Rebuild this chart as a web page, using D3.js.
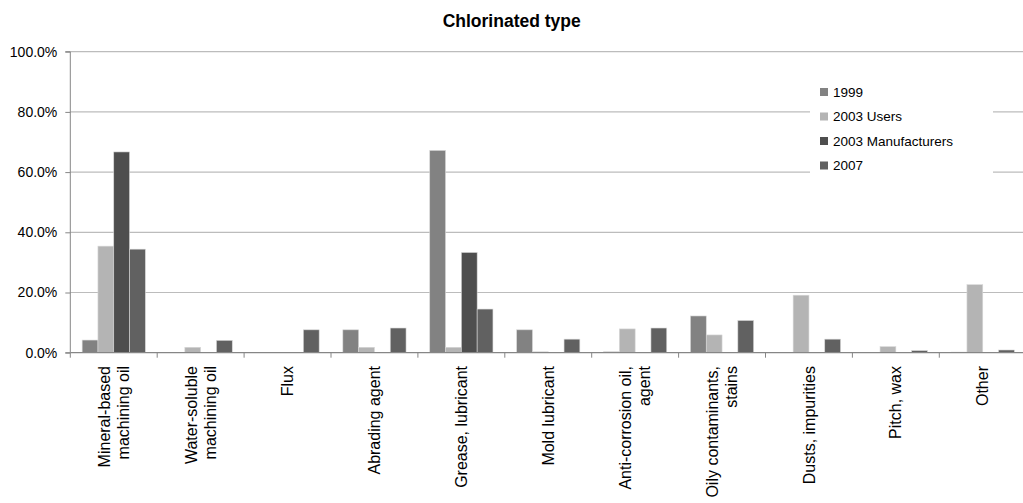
<!DOCTYPE html>
<html>
<head>
<meta charset="utf-8">
<script src="https://cdn.jsdelivr.net/npm/d3@7"></script>
<style>
  html, body { margin: 0; padding: 0; background: #fff; }
  svg { display: block; font-family: "Liberation Sans", Arial, sans-serif; }
</style>
</head>
<body>
<svg id="chart" width="1023" height="503"></svg>
<script>
const categories = [
  ["Mineral-based", "machining oil"],
  ["Water-soluble", "machining oil"],
  ["Flux"],
  ["Abrading agent"],
  ["Grease, lubricant"],
  ["Mold lubricant"],
  ["Anti-corrosion oil,", "agent"],
  ["Oily contaminants,", "stains"],
  ["Dusts, impurities"],
  ["Pitch, wax"],
  ["Other"]
];
const seriesNames = ["1999", "2003 Users", "2003 Manufacturers", "2007"];
const values1999 = [4.2, 0, 0, 7.6, 67.2, 7.6, 0.3, 12.2, 0, 0, 0.2];
const values2003Users = [35.4, 1.8, 0, 1.8, 1.8, 0.3, 7.9, 5.9, 19.1, 2.0, 22.6];
const values2003Manufacturers = [66.7, 0, 0, 0, 33.3, 0, 0, 0, 0, 0, 0];
const values2007 = [34.4, 4.1, 7.6, 8.2, 14.5, 4.5, 8.2, 10.7, 4.5, 0.7, 0.9];
const yTicks = [0, 20, 40, 60, 80, 100];
const title = "Chlorinated type";
const colors = ["#828282", "#b4b4b4", "#4e4e4e", "#616161"];

const seriesValues = [values1999, values2003Users, values2003Manufacturers, values2007];
const catKeys = categories.map(c => c.join(" "));

const svg = d3.select("#chart");
const mLeft = 70.3, mTop = 51.7, mBottom = 352.7, catStep = 86.9;
const mRight = mLeft + catStep * categories.length;

const x = d3.scaleBand().domain(catKeys).range([mLeft, mRight]).paddingInner(0).paddingOuter(0);
const xs = d3.scaleBand().domain(seriesNames).range([0, x.bandwidth()]).paddingInner(0).paddingOuter(0.75);
const y = d3.scaleLinear().domain([0, 100]).range([mBottom, mTop]);

// gridlines
svg.append("g").selectAll("line").data(yTicks.filter(t => t > 0)).join("line")
  .attr("x1", mLeft).attr("x2", mRight)
  .attr("y1", d => y(d)).attr("y2", d => y(d))
  .attr("stroke", "#bcbcbc").attr("stroke-width", 1.2);

// bars
const table = [];
catKeys.forEach((c, i) => seriesNames.forEach((s, j) => table.push({c, s, j, v: seriesValues[j][i]})));
svg.append("g").selectAll("rect").data(table.filter(d => d.v > 0)).join("rect")
  .attr("x", d => x(d.c) + xs(d.s))
  .attr("width", xs.bandwidth())
  .attr("y", d => y(d.v))
  .attr("height", d => y(0) - y(d.v))
  .attr("fill", d => colors[d.j])
  .attr("stroke", "#d8d8d8").attr("stroke-width", 0.6);

// y axis
const yAxis = d3.axisLeft(y).tickValues(yTicks).tickSize(5).tickPadding(8)
  .tickFormat(d => d.toFixed(1) + "%");
const yg = svg.append("g").attr("transform", `translate(${mLeft},0)`).call(yAxis);
yg.select(".domain").attr("stroke", "#868686").attr("d", `M-5,${mTop}H0V${mBottom}H-5`);
yg.selectAll(".tick line").attr("stroke", "#868686");
yg.selectAll(".tick text").attr("font-size", 14).attr("fill", "#000")
  .attr("font-family", "Liberation Sans, Arial, sans-serif");

// x axis
const xg = svg.append("g").attr("transform", `translate(0,${mBottom})`);
xg.append("line").attr("x1", mLeft).attr("x2", mRight).attr("stroke", "#868686").attr("stroke-width", 1.2);
xg.selectAll(".xt").data(d3.range(categories.length + 1)).join("line")
  .attr("class", "xt")
  .attr("x1", i => mLeft + i * x.step()).attr("x2", i => mLeft + i * x.step())
  .attr("y1", 0).attr("y2", 5).attr("stroke", "#868686");

const labels = svg.append("g");
categories.forEach((lines, i) => {
  const cx = x(catKeys[i]) + x.bandwidth() / 2;
  const t = labels.append("text")
    .attr("transform", `translate(${cx},366) rotate(-90)`)
    .attr("text-anchor", "end")
    .attr("font-size", 16)
    .attr("fill", "#000");
  const lh = 19;
  lines.forEach((ln, k) => {
    t.append("tspan").attr("x", 0)
      .attr("y", (k - (lines.length - 1) / 2) * lh)
      .attr("dy", "0.35em")
      .text(ln);
  });
});

// title
svg.append("text").attr("x", 511.7).attr("y", 27).attr("text-anchor", "middle")
  .attr("font-size", 17.5).attr("font-weight", "bold").attr("fill", "#000").text(title);

// legend
const lg = svg.append("g");
lg.append("rect").attr("x", 810).attr("y", 78).attr("width", 183).attr("height", 102).attr("fill", "#fff");
seriesNames.forEach((s, j) => {
  const cy = 92 + j * 24.5;
  lg.append("rect").attr("x", 820).attr("y", cy - 4).attr("width", 8).attr("height", 8).attr("fill", colors[j]);
  lg.append("text").attr("x", 833).attr("y", cy).attr("dy", "0.35em")
    .attr("font-size", 13.5).attr("fill", "#000").text(s);
});
</script>
</body>
</html>
